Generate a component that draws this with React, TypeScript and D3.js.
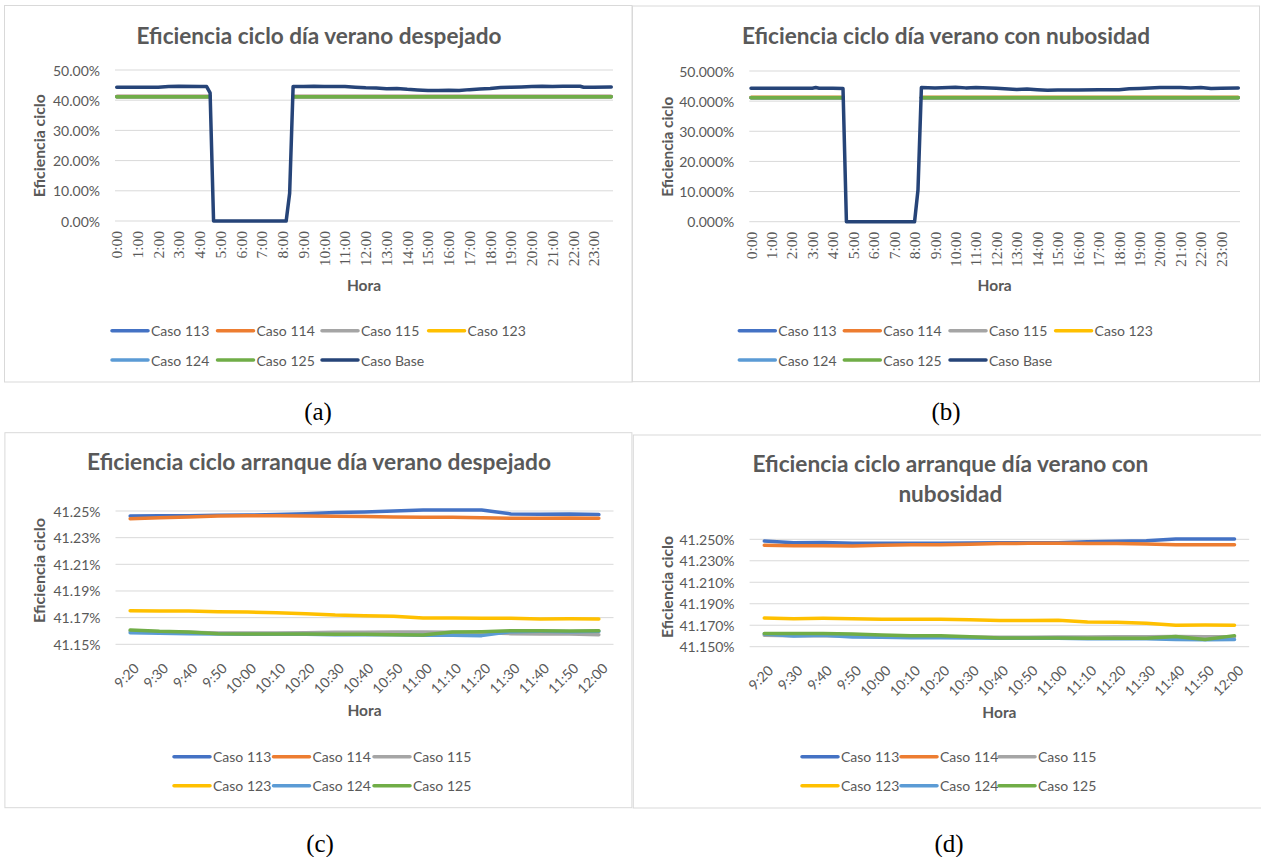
import React from "react";
import * as d3 from "d3";

// ---- Axis categories and tick labels ----
const dayHourTicks = [
  "0:00", "1:00", "2:00", "3:00", "4:00", "5:00", "6:00", "7:00", "8:00", "9:00", "10:00", "11:00",
  "12:00", "13:00", "14:00", "15:00", "16:00", "17:00", "18:00", "19:00", "20:00", "21:00", "22:00", "23:00",
];
const dayPercentTicks = [0, 10, 20, 30, 40, 50];

const startupTimes = [
  "9:20", "9:30", "9:40", "9:50", "10:00", "10:10", "10:20", "10:30", "10:40",
  "10:50", "11:00", "11:10", "11:20", "11:30", "11:40", "11:50", "12:00",
];
const startupPercentTicks = [41.15, 41.17, 41.19, 41.21, 41.23, 41.25];

// ---- (a) Full day, clear summer day ----
const baseTimesA = [
  "0:00", "1:00", "2:00", "2:30", "3:00", "4:00", "4:20", "4:30", "4:40", "8:10", "8:20", "8:30",
  "9:00", "9:30", "10:00", "11:00", "11:30", "12:00", "12:30", "13:00", "13:30", "14:00", "14:30",
  "15:00", "15:30", "16:00", "16:30", "17:00", "17:30", "18:00", "18:30", "19:00", "19:30", "20:00",
  "20:30", "21:00", "21:30", "22:00", "22:20", "22:30", "23:00", "23:50",
];
const baseValuesA = [
  44.3, 44.3, 44.3, 44.5, 44.6, 44.5, 44.5, 42.4, 0, 0, 9.2, 44.5,
  44.5, 44.6, 44.5, 44.5, 44.3, 44.1, 44.0, 43.8, 43.9, 43.6, 43.4,
  43.2, 43.2, 43.3, 43.2, 43.5, 43.7, 43.9, 44.2, 44.3, 44.4, 44.5,
  44.6, 44.5, 44.6, 44.6, 44.6, 44.3, 44.3, 44.4,
];
const caseTimesA = ["0:00", "2:00", "4:00", "4:30", "6:30", "8:30", "10:00", "12:00", "14:00", "16:00", "18:00", "20:00", "22:00", "23:50"];
const case113A = [41.248, 41.248, 41.248, 41.248, null, 41.248, 41.248, 41.248, 41.248, 41.248, 41.248, 41.248, 41.248, 41.248];
const case114A = [41.245, 41.245, 41.245, 41.245, null, 41.245, 41.245, 41.245, 41.245, 41.245, 41.245, 41.245, 41.245, 41.245];
const case115A = [41.159, 41.159, 41.159, 41.159, null, 41.159, 41.159, 41.159, 41.159, 41.159, 41.159, 41.159, 41.159, 41.159];
const case123A = [41.172, 41.172, 41.172, 41.172, null, 41.172, 41.172, 41.172, 41.172, 41.172, 41.172, 41.172, 41.172, 41.172];
const case124A = [41.158, 41.158, 41.158, 41.158, null, 41.158, 41.158, 41.158, 41.158, 41.158, 41.158, 41.158, 41.158, 41.158];
const case125A = [41.159, 41.159, 41.159, 41.159, null, 41.159, 41.159, 41.159, 41.159, 41.159, 41.159, 41.159, 41.159, 41.159];

// ---- (b) Full day, cloudy summer day ----
const baseTimesB = [
  "0:00", "3:00", "3:10", "3:20", "4:00", "4:30", "4:40", "8:00", "8:10", "8:20", "9:00", "10:00",
  "10:30", "11:00", "12:00", "13:00", "13:30", "14:00", "14:30", "15:00", "16:00", "17:00", "18:00",
  "18:30", "19:00", "20:00", "21:00", "21:30", "22:00", "22:30", "23:00", "23:50",
];
const baseValuesB = [
  44.3, 44.3, 44.5, 44.3, 44.3, 44.2, 0, 0, 10.5, 44.5, 44.4, 44.6,
  44.4, 44.5, 44.3, 43.9, 44.0, 43.8, 43.6, 43.7, 43.7, 43.8, 43.8,
  44.1, 44.2, 44.5, 44.5, 44.4, 44.5, 44.2, 44.3, 44.4,
];
const caseTimesB = ["0:00", "2:00", "4:00", "4:30", "6:30", "8:20", "10:00", "12:00", "14:00", "16:00", "18:00", "20:00", "22:00", "23:50"];
const case113B = [41.248, 41.248, 41.248, 41.248, null, 41.248, 41.248, 41.248, 41.248, 41.248, 41.248, 41.248, 41.248, 41.248];
const case114B = [41.245, 41.245, 41.245, 41.245, null, 41.245, 41.245, 41.245, 41.245, 41.245, 41.245, 41.245, 41.245, 41.245];
const case115B = [41.159, 41.159, 41.159, 41.159, null, 41.159, 41.159, 41.159, 41.159, 41.159, 41.159, 41.159, 41.159, 41.159];
const case123B = [41.173, 41.173, 41.173, 41.173, null, 41.173, 41.173, 41.173, 41.173, 41.173, 41.173, 41.173, 41.173, 41.173];
const case124B = [41.158, 41.158, 41.158, 41.158, null, 41.158, 41.158, 41.158, 41.158, 41.158, 41.158, 41.158, 41.158, 41.158];
const case125B = [41.159, 41.159, 41.159, 41.159, null, 41.159, 41.159, 41.159, 41.159, 41.159, 41.159, 41.159, 41.159, 41.159];

// ---- (c) Start-up, clear summer day ----
const startup113C = [41.2463, 41.2465, 41.2465, 41.2468, 41.2470, 41.2473, 41.2480, 41.2488, 41.2493, 41.2500, 41.2508, 41.2508, 41.2508, 41.2478, 41.2475, 41.2478, 41.2473];
const startup114C = [41.2442, 41.2450, 41.2455, 41.2463, 41.2465, 41.2465, 41.2463, 41.2460, 41.2458, 41.2455, 41.2453, 41.2453, 41.2450, 41.2445, 41.2445, 41.2448, 41.2445];
const startup115C = [41.1600, 41.1595, 41.1590, 41.1585, 41.1585, 41.1585, 41.1587, 41.1590, 41.1590, 41.1592, 41.1592, 41.1590, 41.1587, 41.1580, 41.1577, 41.1577, 41.1572];
const startup123C = [41.1752, 41.1750, 41.1750, 41.1745, 41.1742, 41.1737, 41.1730, 41.1720, 41.1715, 41.1710, 41.1697, 41.1697, 41.1695, 41.1695, 41.1690, 41.1692, 41.1690];
const startup124C = [41.1587, 41.1582, 41.1580, 41.1577, 41.1575, 41.1575, 41.1575, 41.1572, 41.1572, 41.1572, 41.1567, 41.1567, 41.1565, 41.1595, 41.1597, 41.1595, 41.1597];
const startup125C = [41.1607, 41.1597, 41.1592, 41.1580, 41.1577, 41.1577, 41.1577, 41.1575, 41.1575, 41.1572, 41.1570, 41.1592, 41.1595, 41.1602, 41.1602, 41.1600, 41.1602];

// ---- (d) Start-up, cloudy summer day ----
const startup113D = [41.2484, 41.2468, 41.2471, 41.2463, 41.2463, 41.2463, 41.2463, 41.2466, 41.2468, 41.2468, 41.2468, 41.2478, 41.2481, 41.2487, 41.2503, 41.2503, 41.2503];
const startup114D = [41.2444, 41.2441, 41.2441, 41.2438, 41.2444, 41.2450, 41.2450, 41.2454, 41.2460, 41.2463, 41.2463, 41.2460, 41.2460, 41.2457, 41.2450, 41.2450, 41.2450];
const startup115D = [41.1606, 41.1603, 41.1603, 41.1599, 41.1596, 41.1593, 41.1593, 41.1590, 41.1587, 41.1587, 41.1590, 41.1590, 41.1593, 41.1593, 41.1596, 41.1593, 41.1593];
const startup123D = [41.1767, 41.1761, 41.1764, 41.1761, 41.1755, 41.1755, 41.1755, 41.1752, 41.1743, 41.1743, 41.1746, 41.1730, 41.1727, 41.1718, 41.1699, 41.1702, 41.1699];
const startup124D = [41.1618, 41.1600, 41.1606, 41.1590, 41.1587, 41.1584, 41.1584, 41.1581, 41.1578, 41.1578, 41.1578, 41.1575, 41.1575, 41.1575, 41.1568, 41.1565, 41.1568];
const startup125D = [41.1624, 41.1624, 41.1624, 41.1618, 41.1609, 41.1603, 41.1603, 41.1593, 41.1581, 41.1581, 41.1581, 41.1578, 41.1578, 41.1578, 41.1596, 41.1568, 41.1603];

// ---- Series styling ----
const palette: Record<string, string> = {
  "Caso 113": "#4472C4",
  "Caso 114": "#ED7D31",
  "Caso 115": "#A5A5A5",
  "Caso 123": "#FFC000",
  "Caso 124": "#5B9BD5",
  "Caso 125": "#70AD47",
  "Caso Base": "#264478",
};

const FONT = "Lato, 'Open Sans', sans-serif";
const SERIF = "'Liberation Serif', 'DejaVu Serif', serif";
const TEXT = "#595959";
const GRID = "#D9D9D9";

type Series = { name: string; times: string[]; values: (number | null)[] };

const toMinutes = (s: string) => {
  const [h, m] = s.split(":").map(Number);
  return h * 60 + m;
};

interface PanelProps {
  kind: "day" | "startup";
  box: { x: number; y: number; w: number; h: number };
  plot: { left: number; right: number; top: number; bottom: number };
  titleLines: { text: string; y: number; len: number }[];
  titleX: number;
  yTitle: { x: number; y: number; len: number };
  xTitleY: number;
  yTicks: number[];
  tickDigits: number;
  series: Series[];
  legendRows: string[][];
  legendX: number[];
  legendY: number[];
  caption: { text: string; x: number; y: number };
}

function Panel(p: PanelProps) {
  const { plot } = p;
  const y = d3
    .scaleLinear()
    .domain([p.yTicks[0], p.yTicks[p.yTicks.length - 1]])
    .range([plot.bottom, plot.top]);

  const xDay = d3.scaleLinear().domain([-5, 1435]).range([plot.left, plot.right]);
  const xStart = d3.scalePoint<string>().domain(startupTimes).range([plot.left, plot.right]).padding(0.5);
  const xPos = (t: string) => (p.kind === "day" ? xDay(toMinutes(t)) : (xStart(t) as number));

  const line = d3
    .line<{ t: string; v: number | null }>()
    .defined((d) => d.v != null)
    .x((d) => xPos(d.t))
    .y((d) => y(d.v as number));

  const xTicks = p.kind === "day" ? dayHourTicks : startupTimes;
  const fmt = (v: number) => v.toFixed(p.tickDigits) + "%";
  const midX = (plot.left + plot.right) / 2;

  return (
    <g>
      <rect x={p.box.x} y={p.box.y} width={p.box.w} height={p.box.h} fill="#fff" stroke={GRID} strokeWidth={1} />
      {p.titleLines.map((tl, i) => (
        <text
          key={i}
          x={p.titleX}
          y={tl.y}
          textAnchor="middle"
          dominantBaseline="central"
          fontFamily={FONT}
          fontWeight={700}
          fontSize={22}
          fill={TEXT}
          textLength={tl.len}
          lengthAdjust="spacingAndGlyphs"
        >
          {tl.text}
        </text>
      ))}
      {/* gridlines and value axis labels */}
      {p.yTicks.map((v) => (
        <g key={v}>
          <line x1={plot.left} x2={plot.right} y1={y(v)} y2={y(v)} stroke={GRID} strokeWidth={1} />
          <text
            x={plot.left - 15}
            y={y(v)}
            textAnchor="end"
            dominantBaseline="central"
            fontFamily={FONT}
            fontSize={14}
            fill={TEXT}
          >
            {fmt(v)}
          </text>
        </g>
      ))}
      {/* category axis labels */}
      {xTicks.map((t) =>
        p.kind === "day" ? (
          <text
            key={t}
            transform={`translate(${xPos(t)},${plot.bottom + 10}) rotate(-90)`}
            textAnchor="end"
            dominantBaseline="central"
            fontFamily={SERIF}
            fontSize={15.5}
            fill={TEXT}
          >
            {t}
          </text>
        ) : (
          <text
            key={t}
            transform={`translate(${xPos(t) + 6},${plot.bottom + 21}) rotate(-45)`}
            textAnchor="end"
            dominantBaseline="central"
            fontFamily={FONT}
            fontSize={14}
            fill={TEXT}
          >
            {t}
          </text>
        )
      )}
      {/* axis titles */}
      <text
        transform={`translate(${p.yTitle.x},${p.yTitle.y}) rotate(-90)`}
        textAnchor="middle"
        dominantBaseline="central"
        fontFamily={FONT}
        fontWeight={700}
        fontSize={16}
        fill={TEXT}
        textLength={p.yTitle.len}
        lengthAdjust="spacingAndGlyphs"
      >
        Eficiencia ciclo
      </text>
      <text x={midX} y={p.xTitleY} textAnchor="middle" dominantBaseline="central" fontFamily={FONT} fontWeight={700} fontSize={15.5} fill={TEXT}>
        Hora
      </text>
      {/* series */}
      {p.series.map((s) => (
        <path
          key={s.name}
          d={line(s.times.map((t, i) => ({ t, v: s.values[i] }))) || ""}
          fill="none"
          stroke={palette[s.name]}
          strokeWidth={3.5}
          strokeLinejoin="round"
          strokeLinecap="round"
        />
      ))}
      {/* legend */}
      {p.legendRows.map((row, r) =>
        row.map((name, i) => {
          const lx = p.legendX[i];
          const ly = p.legendY[r];
          return (
            <g key={name}>
              <line x1={lx} x2={lx + 36} y1={ly} y2={ly} stroke={palette[name]} strokeWidth={3.5} strokeLinecap="round" />
              <text x={lx + 39} y={ly} dominantBaseline="central" fontFamily={FONT} fontSize={14} fill={TEXT}>
                {name}
              </text>
            </g>
          );
        })
      )}
      <text x={p.caption.x} y={p.caption.y} textAnchor="middle" dominantBaseline="central" fontFamily={SERIF} fontSize={25} fill="#000">
        {p.caption.text}
      </text>
    </g>
  );
}

const daySeries = (
  times: string[],
  c113: (number | null)[],
  c114: (number | null)[],
  c115: (number | null)[],
  c123: (number | null)[],
  c124: (number | null)[],
  c125: (number | null)[],
  baseTimes: string[],
  base: number[]
): Series[] => [
  { name: "Caso 113", times, values: c113 },
  { name: "Caso 114", times, values: c114 },
  { name: "Caso 115", times, values: c115 },
  { name: "Caso 123", times, values: c123 },
  { name: "Caso 124", times, values: c124 },
  { name: "Caso 125", times, values: c125 },
  { name: "Caso Base", times: baseTimes, values: base },
];

const startupSeries = (vals: number[][]): Series[] =>
  ["Caso 113", "Caso 114", "Caso 115", "Caso 123", "Caso 124", "Caso 125"].map((name, i) => ({
    name,
    times: startupTimes,
    values: vals[i],
  }));

export default function App() {
  const dayLegend = [
    ["Caso 113", "Caso 114", "Caso 115", "Caso 123"],
    ["Caso 124", "Caso 125", "Caso Base"],
  ];
  const startupLegend = [
    ["Caso 113", "Caso 114", "Caso 115"],
    ["Caso 123", "Caso 124", "Caso 125"],
  ];

  return (
    <svg width={1261} height={857} style={{ position: "absolute", left: 0, top: 0, background: "#fff" }}>
      <Panel
        kind="day"
        box={{ x: 4.5, y: 5.5, w: 627.5, h: 376.5 }}
        plot={{ left: 115, right: 613, top: 70, bottom: 221 }}
        titleLines={[{ text: "Eficiencia ciclo día verano despejado", y: 35, len: 365 }]}
        titleX={319}
        yTitle={{ x: 38.5, y: 145.7, len: 103 }}
        xTitleY={285}
        yTicks={dayPercentTicks}
        tickDigits={2}
        series={daySeries(caseTimesA, case113A, case114A, case115A, case123A, case124A, case125A, baseTimesA, baseValuesA)}
        legendRows={dayLegend}
        legendX={[112, 217.5, 322, 428.6]}
        legendY={[330.7, 360]}
        caption={{ text: "(a)", x: 318, y: 411 }}
      />
      <Panel
        kind="day"
        box={{ x: 632.5, y: 6, w: 627, h: 375.7 }}
        plot={{ left: 749.3, right: 1240, top: 71, bottom: 221.7 }}
        titleLines={[{ text: "Eficiencia ciclo día verano con nubosidad", y: 35.5, len: 408 }]}
        titleX={946}
        yTitle={{ x: 666.7, y: 146.7, len: 100 }}
        xTitleY={285}
        yTicks={dayPercentTicks}
        tickDigits={3}
        series={daySeries(caseTimesB, case113B, case114B, case115B, case123B, case124B, case125B, baseTimesB, baseValuesB)}
        legendRows={dayLegend}
        legendX={[739.3, 844.3, 950, 1055.6]}
        legendY={[330.7, 360]}
        caption={{ text: "(b)", x: 946, y: 411 }}
      />
      <Panel
        kind="startup"
        box={{ x: 4.9, y: 432.7, w: 627, h: 375 }}
        plot={{ left: 115.5, right: 613.5, top: 511, bottom: 644.3 }}
        titleLines={[{ text: "Eficiencia ciclo arranque día verano despejado", y: 461.5, len: 464 }]}
        titleX={319}
        yTitle={{ x: 38.8, y: 570.6, len: 105 }}
        xTitleY={710}
        yTicks={startupPercentTicks}
        tickDigits={2}
        series={startupSeries([startup113C, startup114C, startup115C, startup123C, startup124C, startup125C])}
        legendRows={startupLegend}
        legendX={[174, 273.5, 374]}
        legendY={[756.7, 785.7]}
        caption={{ text: "(c)", x: 320, y: 843 }}
      />
      <Panel
        kind="startup"
        box={{ x: 633.3, y: 435, w: 640, h: 373 }}
        plot={{ left: 749.6, right: 1249.2, top: 539.3, bottom: 646.7 }}
        titleLines={[
          { text: "Eficiencia ciclo arranque día verano con", y: 463.5, len: 396 },
          { text: "nubosidad", y: 493, len: 104 },
        ]}
        titleX={950.4}
        yTitle={{ x: 666, y: 587, len: 102 }}
        xTitleY={711.7}
        yTicks={startupPercentTicks}
        tickDigits={3}
        series={startupSeries([startup113D, startup114D, startup115D, startup123D, startup124D, startup125D])}
        legendRows={startupLegend}
        legendX={[802, 901, 999]}
        legendY={[756.7, 785.7]}
        caption={{ text: "(d)", x: 949, y: 843 }}
      />
    </svg>
  );
}
